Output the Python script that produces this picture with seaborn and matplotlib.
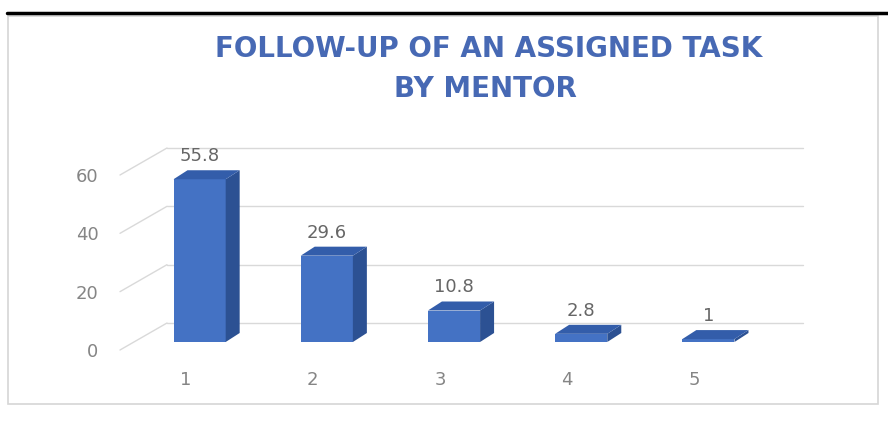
import matplotlib
matplotlib.use("Agg")
import matplotlib.pyplot as plt
import seaborn as sns
import pandas as pd
from matplotlib.patches import Polygon, Rectangle
from matplotlib.lines import Line2D
from matplotlib.transforms import offset_copy, IdentityTransform

# ---- data -------------------------------------------------------------
categories = ["1", "2", "3", "4", "5"]
values = [55.8, 29.6, 10.8, 2.8, 1]
value_labels = ["55.8", "29.6", "10.8", "2.8", "1"]
y_ticks = [0, 20, 40, 60]
title_line1 = "FOLLOW-UP OF AN ASSIGNED TASK"
title_line2 = "BY MENTOR"

# ---- styling ----------------------------------------------------------
FRONT = "#4472C4"
SIDE = "#2C5193"
TOP = "#335DAA"
TITLE_COLOR = "#4769B4"
GRID = "#D9D9D9"
TICK_COLOR = "#858585"
LABEL_COLOR = "#666666"

sns.set_theme(style="white")
plt.rcParams["font.family"] = ["DejaVu Sans"]

W, H, DPI = 888, 421, 100
fig = plt.figure(figsize=(W / DPI, H / DPI), dpi=DPI)
fig.patch.set_facecolor("white")

# axes = front edge of the chart floor; bars sit a little deeper
ax = fig.add_axes([122 / W, (H - 350) / H, 636 / W, 175 / H])
ax.set_facecolor("none")

df = pd.DataFrame({"rank": categories, "pct": values})
sns.barplot(data=df, x="rank", y="pct", order=categories, color=FRONT,
            saturation=1, width=0.41, ax=ax, zorder=3, linewidth=0)
ax.set_xlim(-0.5, 4.5)
ax.set_ylim(0, 60)

ident = IdentityTransform()

# 3-D look: bar depth and wall depth in pixels
BAR_SHIFT = (14, 8)     # front face of bars relative to floor front
BAR_DEPTH = (14, 9)     # thickness of each bar
WALL_DEPTH = (45, 27)   # full floor depth (back wall offset)

bar_trans = offset_copy(ax.transData, fig=fig, x=BAR_SHIFT[0], y=BAR_SHIFT[1], units="dots")
dx, dy = BAR_DEPTH
for p in list(ax.patches):
    p.set_transform(bar_trans)
    p.set_clip_on(False)
    x0, x1 = p.get_x(), p.get_x() + p.get_width()
    h = p.get_height()
    (ax0, ay0), = bar_trans.transform([(x0, 0)])
    (ax1, ay1), = bar_trans.transform([(x1, h)])
    side = Polygon([(ax1, ay0), (ax1, ay1), (ax1 + dx, ay1 + dy), (ax1 + dx, ay0 + dy)],
                   closed=True, transform=ident, facecolor=SIDE, edgecolor="none",
                   zorder=3, clip_on=False)
    top = Polygon([(ax0, ay1), (ax1, ay1), (ax1 + dx, ay1 + dy), (ax0 + dx, ay1 + dy)],
                  closed=True, transform=ident, facecolor=TOP, edgecolor="none",
                  zorder=3, clip_on=False)
    ax.add_artist(side)
    ax.add_artist(top)

# back-wall gridlines and side-wall diagonals
wx, wy = WALL_DEPTH
xl, xr = ax.get_xlim()
for v in y_ticks:
    (fx, fy), = ax.transData.transform([(xl, v)])
    (rx, _), = ax.transData.transform([(xr, v)])
    ax.add_artist(Line2D([fx - 2, fx + wx], [fy, fy + wy], transform=ident,
                         color=GRID, lw=1.0, zorder=1, clip_on=False))
    ax.add_artist(Line2D([fx + wx, rx + wx], [fy + wy, fy + wy], transform=ident,
                         color=GRID, lw=1.0, zorder=1, clip_on=False))

# value labels above each bar
for i, (v, lab) in enumerate(zip(values, value_labels)):
    ax.annotate(lab, xy=(i, v), xytext=(14 * 0.72, 22 * 0.72),
                textcoords="offset points", ha="center", va="bottom",
                fontsize=13, color=LABEL_COLOR, annotation_clip=False)

ax.set_yticks(y_ticks)
ax.set_xlabel("")
ax.set_ylabel("")
ax.tick_params(axis="y", length=0, pad=17, labelsize=13, labelcolor=TICK_COLOR)
ax.tick_params(axis="x", length=0, pad=15, labelsize=13, labelcolor=TICK_COLOR)
ax.grid(False)
sns.despine(ax=ax, left=True, bottom=True)

# title
fig.text(489 / W, 1 - 49 / H, title_line1, ha="center", va="center",
         fontsize=20, fontweight="bold", color=TITLE_COLOR)
fig.text(485 / W, 1 - 89 / H, title_line2, ha="center", va="center",
         fontsize=20, fontweight="bold", color=TITLE_COLOR)

# chart frame and the rule above it
fig.add_artist(Rectangle((8, H - 404), 870, 388, transform=ident, fill=False,
                         edgecolor="#D6D6D6", lw=1.2, zorder=0))
fig.add_artist(Line2D([7, W], [H - 12.5, H - 12.5], transform=ident,
                      color="black", lw=2.5, zorder=5))

fig.savefig("out.png", dpi=DPI, facecolor="white")
